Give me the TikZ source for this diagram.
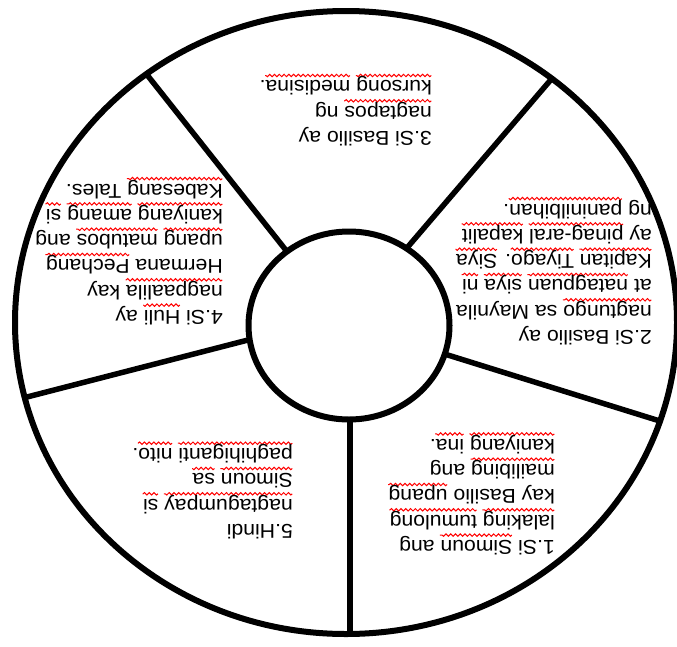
\documentclass[tikz,border=0pt]{standalone}
\usepackage{fontspec}
\setmainfont{Liberation Sans}
\usetikzlibrary{decorations.pathmorphing}
\newsavebox\sqbox
\newcommand\sq[1]{\sbox\sqbox{#1}\rlap{\tikz[baseline=0pt,x=1pt,y=1pt]\draw[red,line width=1pt,decorate,decoration={snake,amplitude=1.2pt,segment length=4.5pt}] (0pt,-5.4pt) -- (\wd\sqbox,-5.4pt);}\usebox\sqbox}
\newcommand\blk[1]{\scalebox{1.06}[1]{\begin{tabular}[t]{@{}l@{}}#1\end{tabular}}}
\tikzset{
  txt/.style={rotate=180, anchor=base west, inner sep=0pt, font=\fontsize{20}{25.3}\selectfont},
  ring/.style={line width=6pt},
  spoke/.style={line width=5.5pt, shorten <=-12pt, shorten >=-8pt}
}
\begin{document}
\begin{tikzpicture}[x=1pt,y=-1pt]
\useasboundingbox (0,0) rectangle (677,646);
% spokes
\coordinate (c1i) at (350,420); \coordinate (c1o) at (350,634);
\coordinate (c2i) at (451,356); \coordinate (c2o) at (663,422);
\coordinate (c3i) at (412,242); \coordinate (c3o) at (554,76);
\coordinate (c4i) at (281,244); \coordinate (c4o) at (148,76);
\coordinate (c5i) at (248,340); \coordinate (c5o) at (27,397);
\begin{scope}
\clip (346,322.5) ellipse [x radius=331, y radius=311.5];
\foreach \k in {1,...,5} \draw[spoke] (c\k i) -- (c\k o);
\end{scope}
\filldraw[ring, fill=white] (349,325.5) ellipse [x radius=100.5, y radius=94];
\draw[ring] (346,322.5) ellipse [x radius=331, y radius=311.5];
% texts
\node[txt] (b1) at (555,540.5) {\blk{1.Si \sq{Simoun} ang\\ \sq{lalaking} \sq{tumulong}\\ kay Basilio \sq{upang}\\ \sq{mailibing} ang\\ \sq{kaniyang} \sq{ina}.}};
\node[txt] (b2) at (652,330.5) {\blk{2.Si Basilio ay\\ \sq{nagtungo} sa Maynila\\ at \sq{natagpuan} \sq{siya} \sq{ni}\\ \sq{Kapitan} \sq{Tiyago}. \sq{Siya}\\ ay \sq{pinag-aral} \sq{kapalit}\\ ng \sq{paninilbihan}.}};
\node[txt] (b3) at (432,131.5) {\blk{3.Si Basilio ay\\ \sq{nagtapos} ng\\ \sq{kursong} \sq{medisina}.}};
\node[txt] (b4) at (223,310.5) {\blk{4.Si \sq{Huli} ay\\ \sq{nagpaalila} kay\\ Hermana \sq{Pechang}\\ \sq{upang} \sq{matubos} ang\\ \sq{kaniyang} \sq{amang} \sq{si}\\ \sq{Kabesang} Tales.}};
\node[txt] (b5) at (293,524.5) {\blk{5.Hindi\\ \sq{nagtagumpay} \sq{si}\\ \sq{Simoun} \sq{sa}\\ \sq{paghihiganti} \sq{nito}.}};
\end{tikzpicture}
\end{document}
